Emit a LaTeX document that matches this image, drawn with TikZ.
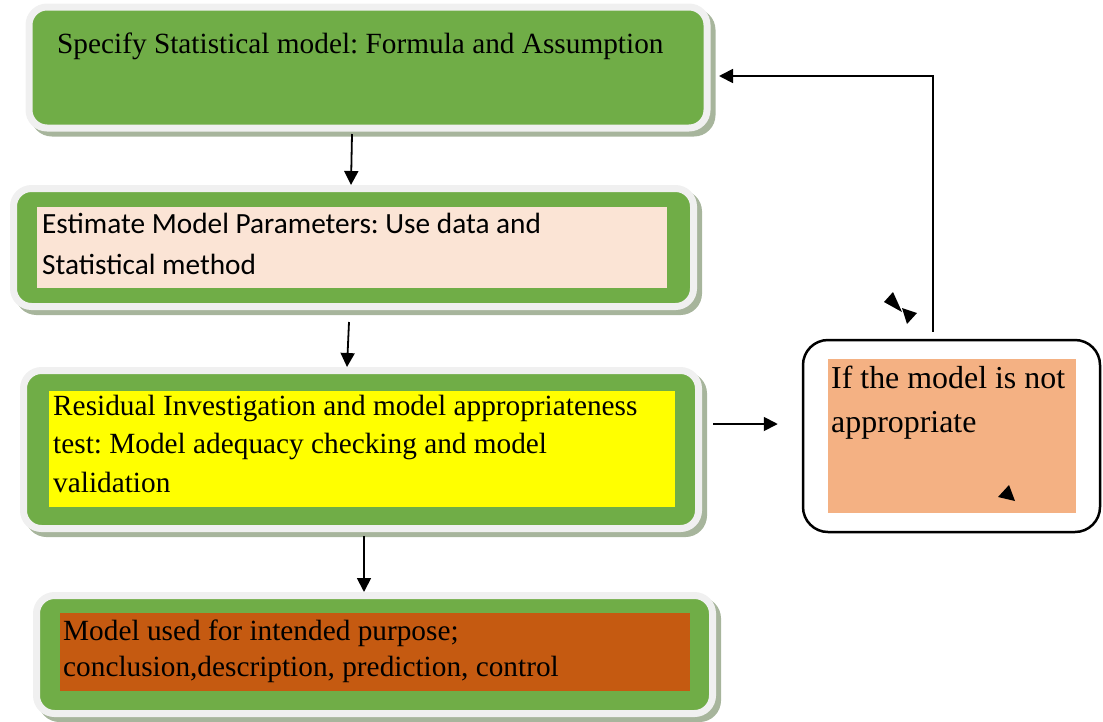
\documentclass[tikz,border=0pt]{standalone}
\usepackage{fontspec}
\setmainfont{Liberation Serif}
\newfontfamily\calibrifont{Carlito}
\usetikzlibrary{positioning, calc, arrows.meta, shadows}
\frenchspacing
\definecolor{stepgreen}{HTML}{70AD47}
\definecolor{rimgray}{HTML}{F0F0F0}
\definecolor{shadegreen}{HTML}{A7B59C}
\definecolor{estpink}{HTML}{FBE4D5}
\definecolor{resyellow}{HTML}{FFFF00}
\definecolor{usebrown}{HTML}{C55A11}
\definecolor{ifsalmon}{HTML}{F4B183}
\tikzset{
	arrow/.style={line width=1.8pt, ->, >={Triangle[width=14pt, length=14pt]}},
	stepframe/.style={rectangle, rounded corners=18pt, fill=stepgreen, draw=rimgray, line width=7pt, inner sep=0pt,
		general shadow={fill=shadegreen, draw=shadegreen, line width=7pt, shadow xshift=5pt, shadow yshift=-5pt}},
	ifframe/.style={rectangle, rounded corners=25pt, fill=white, draw=black, line width=2.5pt, inner sep=0pt},
	panel/.style={rectangle, anchor=north west, inner ysep=0pt, align=flush left, font=\fontsize{29.3pt}{38.5pt}\selectfont},
}
% strut on top of the first line and below the last one
\newcommand{\padtext}[3]{\rule{0pt}{#1}#3\rule[-#2]{0pt}{#2}}

\begin{document}
\begin{tikzpicture}[x=1pt, y=-1pt]
	\useasboundingbox (0,0) rectangle (1103,721);

	% frames
	\node[stepframe, minimum width=678pt, minimum height=121pt] (spec) at (368,67.5) {};
	\node[stepframe, minimum width=680pt, minimum height=118pt] (est) at (353.5,247.5) {};
	\node[stepframe, minimum width=675pt, minimum height=158pt] (res) at (361,449.5) {};
	\node[stepframe, minimum width=676pt, minimum height=118pt] (use) at (374.5,654.5) {};
	\node[ifframe, minimum width=297pt, minimum height=192pt] (ifbox) at (951.5,436) {};

	% texts
	\node[panel, inner xsep=4pt, text width=640pt] (spectxt) at (53,29)
		{\padtext{24pt}{0pt}{Specify Statistical model: Formula and Assumption}};
	\node[panel, fill=estpink, inner xsep=5pt, text width=620pt, font=\calibrifont\fontsize{29.3pt}{41pt}\selectfont] (esttxt) at (37,207)
		{\padtext{26pt}{14pt}{Estimate Model Parameters: Use data and\\Statistical method}};
	\node[panel, fill=resyellow, inner xsep=4pt, text width=618pt] (restxt) at (49,391)
		{\padtext{24pt}{15pt}{Residual Investigation and model appropriateness\\test: Model adequacy checking and model\\validation}};
	\node[panel, fill=usebrown, inner xsep=3pt, text width=624pt, font=\fontsize{29.3pt}{36pt}\selectfont] (usetxt) at (60,613)
		{\padtext{27pt}{15pt}{Model used for intended purpose;\\conclusion,description, prediction, control}};
	\node[panel, fill=ifsalmon, inner xsep=3pt, text width=242pt, font=\fontsize{31.9pt}{44pt}\selectfont] (iftxt) at (828,359)
		{\padtext{29pt}{81pt}{If the model is not\\appropriate}};

	% arrows
	\draw[arrow] ([shift={(-16,2.5)}]spec.south) -- ([xshift=-2.5pt]est.north);
	\draw[arrow] ([shift={(-4.5,12)}]est.south) -- ([xshift=-14pt]res.north);
	\draw[arrow] ([shift={(3,4)}]res.south) -- ([xshift=-10.5pt]use.north);
	\draw[arrow] ([shift={(11,-25.5)}]res.east) -- ([shift={(-24,-12)}]ifbox.west);
	\draw[arrow] ([shift={(-18.5,-7)}]ifbox.north) |- ([shift={(8.5,8.5)}]spec.east);

	% loose arrow heads
	\fill (884,302) -- (893,292) -- (902,312) -- cycle;
	\fill (902,308) -- (917,313) -- (907,324) -- cycle;
	\fill (998,497) -- (1009,485) -- (1015,501) -- cycle;
\end{tikzpicture}
\end{document}
